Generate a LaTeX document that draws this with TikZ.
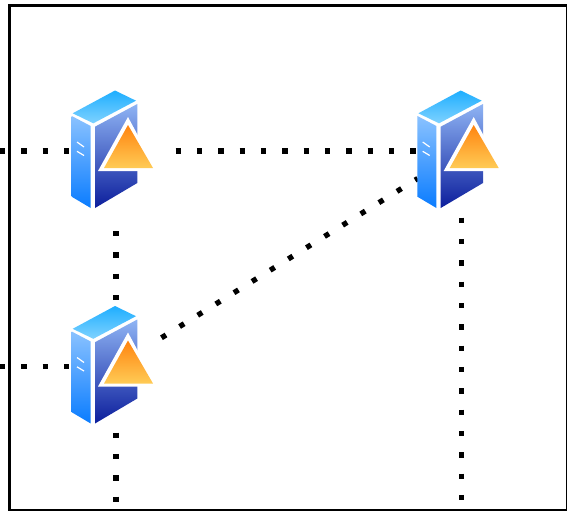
\documentclass[tikz,border=0pt]{standalone}
\definecolor{leftT}{HTML}{8AC2FF}
\definecolor{leftB}{HTML}{0A7CFF}
\definecolor{rightT}{HTML}{8FB4F4}
\definecolor{rightB}{HTML}{0C1E9C}
\definecolor{topT}{HTML}{1EAEFF}
\definecolor{topB}{HTML}{7FD2FF}
\definecolor{triT}{HTML}{FF8410}
\definecolor{triB}{HTML}{FFCB55}
\tikzset{
  iconbox/.style={minimum width=88pt,minimum height=118pt,inner sep=0pt,outer sep=0pt},
  dotline/.style={line width=5.3pt,line cap=butt,dash pattern=on 5.3pt off 16.03pt},
  frameline/.style={line width=2.6pt,draw=black},
  server/.pic={
    \path[shade,top color=topT,bottom color=topB] (-43.3,-37.7) -- (-1,-60.5) -- (20,-50.3) -- (-22.7,-27.7) -- cycle;
    \path[shade,top color=leftT,bottom color=leftB] (-44.3,-35) -- (-25.3,-25) -- (-25.3,57) -- (-44.3,45.7) -- cycle;
    \path[shade,top color=rightT,bottom color=rightB] (-21,-24.3) -- (21.3,-47) -- (21.3,32) -- (-21,57) -- cycle;
    \draw[white,line width=1.2pt] (-39,-9) -- (-32,-4) (-39,0.3) -- (-32,4.5);
    \fill[white] (12,-34) -- (-18,20) -- (41,20) -- cycle;
    \path[shade,top color=triT,bottom color=triB] (12,-26) -- (-12,17) -- (37,17) -- cycle;
  }
}
\begin{document}
\begin{tikzpicture}[x=1pt,y=-1pt]
\useasboundingbox (0,0) rectangle (567,511);
\clip (0,0) rectangle (567,511);
\fill[white] (0,0) rectangle (567,511);
\draw[frameline] (9.7,5.3) rectangle (567,510);
\node[iconbox] (icon1) at (116,151) {};
\node[iconbox] (icon2) at (461.7,151) {};
\node[iconbox] (icon3) at (116,366.5) {};
\coordinate (leftA) at (0.05,151);
\coordinate (leftB) at (0.05,366.5);
\coordinate (bottomA) at (116,503);
\coordinate (bottomB) at (461.7,500);
\draw[dotline] (leftA) -- (icon1.west);
\draw[dotline] (leftB) -- (icon3.west);
\draw[dotline,shorten <=15.65pt] (icon1.east) -- (icon2.west);
\draw[dotline,shorten <=21.05pt] (icon1.south) -- (icon3.north);
\draw[dotline,shorten <=7.05pt] (icon3.south) -- (bottomA);
\draw[dotline,shorten <=7.65pt] (icon2.south) -- (bottomB);
\draw[dotline,shorten <=1.75pt] ([yshift=27.8pt]icon3.east) -- ([yshift=-27.5pt]icon2.west);
\pic at (icon1.center) {server};
\pic at (icon2.center) {server};
\pic at (icon3.center) {server};
\end{tikzpicture}
\end{document}
